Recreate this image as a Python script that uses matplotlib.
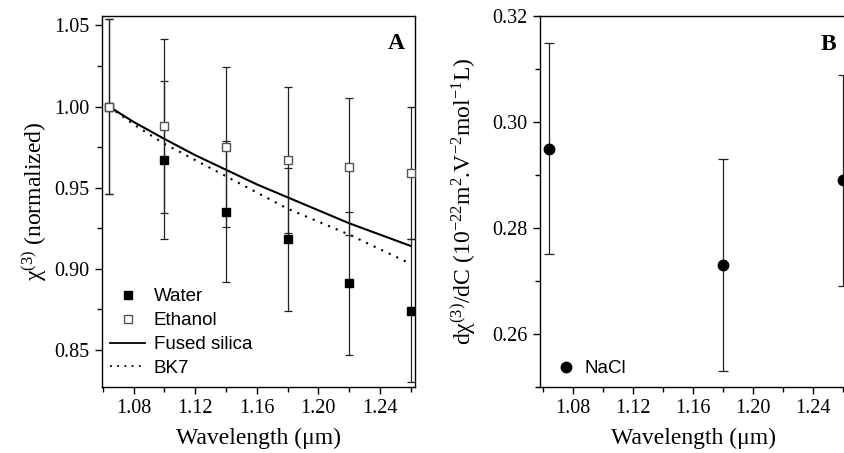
import matplotlib
matplotlib.use("Agg")
import matplotlib.pyplot as plt
from matplotlib.ticker import MultipleLocator, FormatStrFormatter
from matplotlib.lines import Line2D

# Panel A: normalized chi(3) of liquids vs wavelength
wavelengths = [1.064, 1.10, 1.14, 1.18, 1.22, 1.26]
water = [1.000, 0.967, 0.935, 0.918, 0.891, 0.874]
water_err = [0.054, 0.049, 0.0435, 0.044, 0.044, 0.044]
ethanol = [1.000, 0.988, 0.975, 0.967, 0.963, 0.959]
ethanol_err = [0.054, 0.0535, 0.0495, 0.045, 0.042, 0.041]

# glass curves
glass_wl = [1.064, 1.08, 1.10, 1.12, 1.14, 1.16, 1.18, 1.20, 1.22, 1.24, 1.26]
fused_silica = [1.000, 0.9905, 0.980, 0.970, 0.961, 0.952, 0.944, 0.936, 0.928, 0.921, 0.914]
bk7 = [1.000, 0.989, 0.977, 0.967, 0.957, 0.947, 0.937, 0.929, 0.921, 0.912, 0.903]

# Panel B: NaCl concentration derivative
nacl_wl = [1.064, 1.18, 1.26]
nacl = [0.295, 0.273, 0.289]
nacl_err = [0.020, 0.020, 0.020]

plt.rcParams["font.family"] = "Liberation Serif"
plt.rcParams["mathtext.fontset"] = "custom"
plt.rcParams["mathtext.rm"] = "Liberation Serif"
plt.rcParams["mathtext.it"] = "Liberation Serif:italic"
plt.rcParams["axes.linewidth"] = 1.0

legend_font = {"family": "Liberation Sans", "size": 13.5}


def style_axes(ax, ymajor, yminor, yfmt):
    ax.xaxis.set_major_locator(MultipleLocator(0.04))
    ax.xaxis.set_minor_locator(MultipleLocator(0.02))
    ax.xaxis.set_major_formatter(FormatStrFormatter("%.2f"))
    ax.yaxis.set_major_locator(MultipleLocator(ymajor))
    ax.yaxis.set_minor_locator(MultipleLocator(yminor))
    ax.yaxis.set_major_formatter(FormatStrFormatter(yfmt))
    ax.tick_params(which="both", direction="out", top=False, right=False,
                   labelsize=14.5, width=1.0, pad=4)
    ax.tick_params(which="major", length=5)
    ax.tick_params(which="minor", length=3.5)
    ax.set_xlabel("Wavelength (μm)", fontsize=17, labelpad=7)


fig = plt.figure(figsize=(8.44, 4.53), dpi=100)

# ---- Panel A ----
axA = fig.add_axes([0.1209, 0.1457, 0.3708, 0.8196])
axA.plot(glass_wl, fused_silica, color="black", lw=1.5, zorder=2)
axA.plot(glass_wl, bk7, color="black", lw=1.5, linestyle=(0, (1, 3)), zorder=2)
axA.errorbar(wavelengths, water, yerr=water_err, fmt="none", ecolor="#222222",
             elinewidth=0.9, capsize=3, capthick=0.9, zorder=3)
axA.errorbar(wavelengths, ethanol, yerr=ethanol_err, fmt="none", ecolor="#222222",
             elinewidth=0.9, capsize=3, capthick=0.9, zorder=3)
axA.plot(wavelengths, water, "s", color="black", ms=6.2, zorder=4)
axA.plot(wavelengths, ethanol, "s", mfc="white", mec="#555555", mew=1.0, ms=6.2, zorder=5)
axA.set_xlim(1.0595, 1.2628)
axA.set_ylim(0.827, 1.056)
style_axes(axA, 0.05, 0.025, "%.2f")
axA.set_ylabel(r"χ$^{(3)}$ (normalized)", fontsize=17, labelpad=4)
axA.text(0.94, 0.925, "A", transform=axA.transAxes, fontsize=17,
         fontweight="bold", ha="center", va="center")

handlesA = [
    Line2D([], [], marker="s", ls="none", color="black", ms=6.2),
    Line2D([], [], marker="s", ls="none", mfc="white", mec="#555555", ms=6.2),
    Line2D([], [], color="black", lw=1.3),
    Line2D([], [], color="black", lw=1.3, linestyle=(0, (1, 3))),
]
axA.legend(handlesA, ["Water", "Ethanol", "Fused silica", "BK7"],
           loc="lower left", bbox_to_anchor=(0.025, 0.027), frameon=False,
           prop=legend_font, handlelength=1.9, handletextpad=0.45,
           labelspacing=0.36, borderpad=0, borderaxespad=0)

# ---- Panel B ----
axB = fig.add_axes([0.6398, 0.1464, 0.3638, 0.8172])
axB.errorbar(nacl_wl, nacl, yerr=nacl_err, fmt="none", ecolor="#222222",
             elinewidth=0.9, capsize=3.5, capthick=0.9, zorder=3)
axB.plot(nacl_wl, nacl, "o", color="black", ms=7.5, zorder=4, label="NaCl")
axB.set_xlim(1.0582, 1.263)
axB.set_ylim(0.25, 0.32)
style_axes(axB, 0.02, 0.01, "%.2f")
axB.set_ylabel(r"dχ$^{(3)}$/dC (10$^{-22}$m$^{2}$.V$^{-2}$mol$^{-1}$L)",
               fontsize=17, labelpad=10)
axB.text(0.94, 0.925, "B", transform=axB.transAxes, fontsize=17,
         fontweight="bold", ha="center", va="center")
axB.legend(loc="lower left", bbox_to_anchor=(0.055, 0.025), frameon=False,
           prop=legend_font, handlelength=1.0, handletextpad=0.45,
           borderpad=0, borderaxespad=0)

fig.savefig("out.png", dpi=100)
plt.close(fig)
